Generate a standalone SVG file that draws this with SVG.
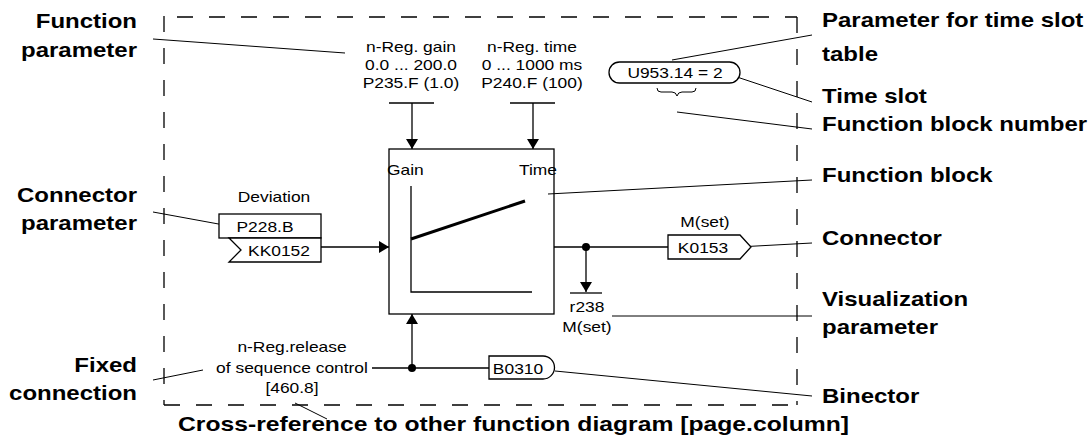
<svg xmlns="http://www.w3.org/2000/svg" width="1089" height="446" viewBox="0 0 1089 446">
<style>
.t{font-family:"Liberation Sans",Arial,sans-serif;font-size:15px;fill:#000}
.b{font-family:"Liberation Sans",Arial,sans-serif;font-size:20px;font-weight:bold;fill:#000}
.m{text-anchor:middle}
.e{text-anchor:end}
.ln{stroke:#000;stroke-width:1.3;fill:none}
.ld{stroke:#000;stroke-width:1;fill:none}
.sh{stroke:#000;stroke-width:1.3;fill:#fff}
.dash{stroke:#000;stroke-width:1.3;fill:none;stroke-dasharray:16 16}
</style>
<defs>
<marker id="arr" markerUnits="userSpaceOnUse" markerWidth="10" markerHeight="12" refX="10" refY="6" orient="auto">
<path d="M0,0 L10,6 L0,12 Z" fill="#000"/>
</marker>
</defs>
<rect width="1089" height="446" fill="#fff"/>

<g id="frame">
<path class="dash" d="M164,16 V405"/>
<path class="dash" d="M164,17 H797" stroke-dashoffset="19"/>
<path class="dash" d="M797,17 V405"/>
<path class="dash" d="M164,405 H797"/>
</g>

<g id="connectors">
<path class="ln" d="M389,103 H434"/>
<path class="ln" d="M412,103 V149" marker-end="url(#arr)"/>
<path class="ln" d="M510,103 H555"/>
<path class="ln" d="M533,103 V149" marker-end="url(#arr)"/>
<path class="ln" d="M321,247 H389" marker-end="url(#arr)"/>
<path class="ln" d="M554,247 H668"/>
<path class="ln" d="M586,247 V292" marker-end="url(#arr)"/>
<path class="ln" d="M570,293 H602"/>
<path class="ln" d="M372,368 H489"/>
<path class="ln" d="M412,368 V314" marker-end="url(#arr)"/>
<circle cx="586" cy="247" r="4" fill="#000"/>
<circle cx="412" cy="368" r="4" fill="#000"/>
</g>

<g id="leaders">
<path class="ld" d="M153,39 L345,53"/>
<path class="ld" d="M153,212 L224,225"/>
<path class="ld" d="M153,380 L203,370"/>
<path class="ld" d="M295,403 L327,419"/>
<path class="ld" d="M672,60 L812,35"/>
<path class="ld" d="M737,77 L812,102"/>
<path class="ld" d="M677,112 L812,129"/>
<path class="ld" d="M548,194 L812,180"/>
<path class="ld" d="M738,247 L812,243"/>
<path class="ld" d="M612,316 L812,316"/>
<path class="ld" d="M555,371 L812,396"/>
</g>

<g id="function-block">
<rect class="ln" x="389" y="149" width="165" height="165"/>
<path class="ln" d="M411,186 V292 H532"/>
<path d="M411,239 L525,201" stroke="#000" stroke-width="3"/>
<text class="t" transform="matrix(1.16 0 0 1 387 175)">Gain</text>
<text class="t" transform="matrix(1.16 0 0 1 519 175)">Time</text>
</g>

<g id="gain-param">
<text class="t m" transform="matrix(1.16 0 0 1 411 52)">n-Reg. gain</text>
<text class="t m" transform="matrix(1.16 0 0 1 411 70)">0.0 ... 200.0</text>
<text class="t m" transform="matrix(1.16 0 0 1 411 88)">P235.F (1.0)</text>
</g>

<g id="time-param">
<text class="t m" transform="matrix(1.16 0 0 1 532 52)">n-Reg. time</text>
<text class="t m" transform="matrix(1.16 0 0 1 532 70)">0 ... 1000 ms</text>
<text class="t m" transform="matrix(1.16 0 0 1 532 88)">P240.F (100)</text>
</g>

<g id="time-slot">
<rect class="sh" x="609" y="62" width="131" height="21" rx="10.5"/>
<text class="t m" transform="matrix(1.16 0 0 1 675 78)">U953.14 = 2</text>
<path class="ld" d="M657,88 Q657,92 661,92 H672 Q676,92 677,96 Q678,92 682,92 H692 Q696,92 696,88"/>
</g>

<g id="input">
<text class="t m" transform="matrix(1.16 0 0 1 274 202)">Deviation</text>
<rect class="sh" x="219" y="214" width="102" height="24"/>
<text class="t m" transform="matrix(1.16 0 0 1 265 232)">P228.B</text>
<path class="sh" d="M229,238 L241,250 L229,262 H321 V238 Z"/>
<text class="t m" transform="matrix(1.16 0 0 1 279 256)">KK0152</text>
</g>

<g id="output">
<text class="t m" transform="matrix(1.16 0 0 1 705 227)">M(set)</text>
<path class="sh" d="M668,235 H740 L751,247 L740,259 H668 Z"/>
<text class="t m" transform="matrix(1.16 0 0 1 703 253)">K0153</text>
</g>

<g id="visualization">
<text class="t m" transform="matrix(1.16 0 0 1 587 312)">r238</text>
<text class="t m" transform="matrix(1.16 0 0 1 587 332)">M(set)</text>
</g>

<g id="release">
<text class="t m" transform="matrix(1.16 0 0 1 292 352)">n-Reg.release</text>
<text class="t m" transform="matrix(1.16 0 0 1 292 373)">of sequence control</text>
<text class="t m" transform="matrix(1.16 0 0 1 292 393)">[460.8]</text>
<path class="sh" d="M489,356 H543 A11.5,11.5 0 0 1 543,379 H489 Z"/>
<text class="t m" transform="matrix(1.16 0 0 1 518 374)">B0310</text>
</g>

<g id="labels">
<text class="b e" transform="matrix(1.2 0 0 1 137 28)">Function</text>
<text class="b e" transform="matrix(1.2 0 0 1 137 57)">parameter</text>
<text class="b e" transform="matrix(1.2 0 0 1 137 202)">Connector</text>
<text class="b e" transform="matrix(1.2 0 0 1 137 230)">parameter</text>
<text class="b e" transform="matrix(1.2 0 0 1 137 372)">Fixed</text>
<text class="b e" transform="matrix(1.2 0 0 1 137 400)">connection</text>
<text class="b" transform="matrix(1.2 0 0 1 822 27)">Parameter for time slot</text>
<text class="b" transform="matrix(1.2 0 0 1 822 61)">table</text>
<text class="b" transform="matrix(1.2 0 0 1 822 103)">Time slot</text>
<text class="b" transform="matrix(1.2 0 0 1 822 131)">Function block number</text>
<text class="b" transform="matrix(1.2 0 0 1 822 182)">Function block</text>
<text class="b" transform="matrix(1.2 0 0 1 822 245)">Connector</text>
<text class="b" transform="matrix(1.2 0 0 1 822 306)">Visualization</text>
<text class="b" transform="matrix(1.2 0 0 1 822 334)">parameter</text>
<text class="b" transform="matrix(1.2 0 0 1 822 403)">Binector</text>
<text class="b" transform="matrix(1.235 0 0 1 178 431)">Cross-reference to other function diagram [page.column]</text>
</g>
</svg>
